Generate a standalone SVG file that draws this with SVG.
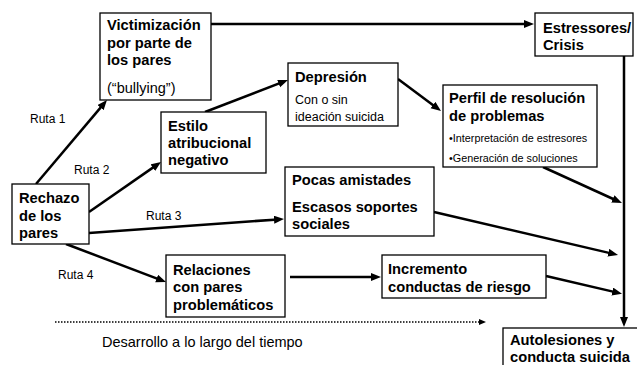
<svg xmlns="http://www.w3.org/2000/svg" width="637" height="365" viewBox="0 0 637 365">
<style>
.box{fill:#fff;stroke:#000;stroke-width:1.3}
.b{font-family:"Liberation Sans",Arial,sans-serif;font-weight:bold;font-size:14.7px;fill:#000}
.r{font-family:"Liberation Sans",Arial,sans-serif;font-size:14.5px;fill:#000}
.m{font-family:"Liberation Sans",Arial,sans-serif;font-size:12.5px;fill:#000}
.s{font-family:"Liberation Sans",Arial,sans-serif;font-size:10.8px;fill:#000}
.lbl{font-family:"Liberation Sans",Arial,sans-serif;font-size:12px;fill:#000}
.c{stroke:#000;stroke-width:2.5;fill:none;marker-end:url(#ah)}
</style>
<defs>
<marker id="ah" markerUnits="userSpaceOnUse" markerWidth="12" markerHeight="10" refX="4" refY="4" orient="auto">
<path d="M0,0 L10,4 L0,8 z" fill="#000"/>
</marker>
<marker id="ahs" markerUnits="userSpaceOnUse" markerWidth="8" markerHeight="8" refX="2" refY="3" orient="auto">
<path d="M0,0 L7,3 L0,6 z" fill="#000"/>
</marker>
</defs>
<g id="connectors">
<line class="c" x1="211" y1="24" x2="528" y2="24"/>
<line class="c" x1="36" y1="184" x2="103.1" y2="104.6"/>
<line class="c" x1="89" y1="212" x2="156.1" y2="165.4"/>
<line class="c" x1="205" y1="112" x2="282.4" y2="82.2"/>
<line class="c" x1="398" y1="79" x2="436.2" y2="107.4"/>
<line class="c" x1="543" y1="167" x2="616.5" y2="200.5"/>
<line class="c" x1="89" y1="233" x2="278" y2="219.4"/>
<line class="c" x1="434" y1="212" x2="612.2" y2="253.6"/>
<line class="c" x1="66" y1="244" x2="160.4" y2="279.9"/>
<line class="c" x1="290" y1="277" x2="375" y2="277"/>
<line class="c" x1="546" y1="276" x2="616.2" y2="292.4"/>
<line class="c" x1="624" y1="56" x2="624" y2="321"/>
<line x1="55" y1="322" x2="481" y2="322" stroke="#000" stroke-width="1.5" stroke-dasharray="1.5,1.5" marker-end="url(#ahs)"/>
</g>
<g id="victimizacion">
<rect class="box" x="100" y="13" width="111" height="87"/>
<text class="b" x="107" y="30">Victimización</text>
<text class="b" x="107" y="48">por parte de</text>
<text class="b" x="107" y="65">los pares</text>
<text class="r" x="107" y="93">(“bullying”)</text>
</g>
<g id="estresores">
<rect class="box" x="535" y="13" width="98" height="43"/>
<text class="b" x="543" y="33">Estressores/</text>
<text class="b" x="543" y="50">Crisis</text>
</g>
<g id="depresion">
<rect class="box" x="288" y="63" width="110" height="63"/>
<text class="b" x="295" y="82">Depresión</text>
<text class="m" x="295" y="104">Con o sin</text>
<text class="m" x="295" y="121">ideación suicida</text>
</g>
<g id="estilo">
<rect class="box" x="161" y="112" width="105" height="61"/>
<text class="b" x="168" y="131">Estilo</text>
<text class="b" x="168" y="148">atribucional</text>
<text class="b" x="168" y="165">negativo</text>
</g>
<g id="perfil">
<rect class="box" x="443" y="85" width="154" height="82"/>
<text class="b" x="449" y="103">Perfil de resolución</text>
<text class="b" x="449" y="121">de problemas</text>
<text class="s" x="449" y="142">•Interpretación de estresores</text>
<text class="s" x="449" y="162">•Generación de soluciones</text>
</g>
<g id="pocas">
<rect class="box" x="285" y="167" width="149" height="69"/>
<text class="b" x="292" y="185">Pocas amistades</text>
<text class="b" x="292" y="212">Escasos soportes</text>
<text class="b" x="292" y="229">sociales</text>
</g>
<g id="rechazo">
<rect class="box" x="12" y="184" width="77" height="60"/>
<text class="b" x="19" y="203">Rechazo</text>
<text class="b" x="19" y="221">de los</text>
<text class="b" x="19" y="238">pares</text>
</g>
<g id="relaciones">
<rect class="box" x="166" y="255" width="119" height="62"/>
<text class="b" x="173" y="275">Relaciones</text>
<text class="b" x="173" y="292">con pares</text>
<text class="b" x="173" y="310">problemáticos</text>
</g>
<g id="incremento">
<rect class="box" x="382" y="255" width="164" height="43"/>
<text class="b" x="388" y="274">Incremento</text>
<text class="b" x="388" y="292">conductas de riesgo</text>
</g>
<g id="autolesiones">
<rect class="box" x="503" y="328" width="140" height="45"/>
<text class="b" x="510" y="345">Autolesiones y</text>
<text class="b" x="510" y="362">conducta suicida</text>
</g>
<g id="labels">
<text class="lbl" x="30" y="123">Ruta 1</text>
<text class="lbl" x="74" y="174">Ruta 2</text>
<text class="lbl" x="146" y="220">Ruta 3</text>
<text class="lbl" x="58" y="279">Ruta 4</text>
<text class="r" x="102" y="347">Desarrollo a lo largo del tiempo</text>
</g>
</svg>
